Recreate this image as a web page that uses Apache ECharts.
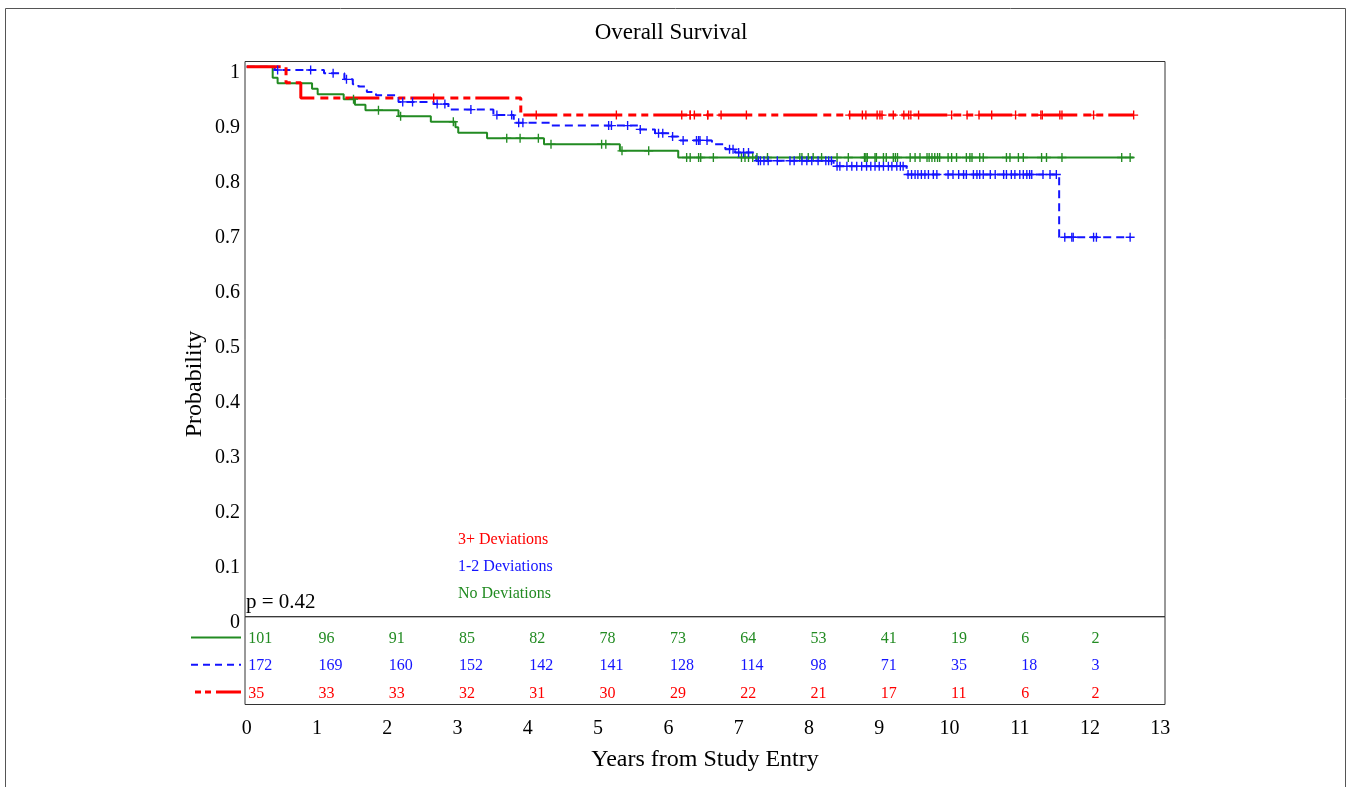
<!DOCTYPE html>
<html><head><meta charset="utf-8">
<script src="https://cdn.jsdelivr.net/npm/echarts@6/dist/echarts.min.js"></script>
<style>html,body{margin:0;padding:0;background:#fff}#c{width:1348px;height:787px}</style>
</head><body><div id="c"></div>
<script>
// ---------- DATA ----------
const xTicks = [0,1,2,3,4,5,6,7,8,9,10,11,12,13];
const yTicks = [0,0.1,0.2,0.3,0.4,0.5,0.6,0.7,0.8,0.9,1];

// No Deviations (green, solid)
const noDevTimes = [0, 0.37, 0.44, 0.93, 1.01, 1.38, 1.54, 1.69, 2.16, 2.62, 2.97, 3.01, 3.42, 4.23, 5.31, 6.14];
const noDevSurv  = [1, 0.980, 0.970, 0.960, 0.950, 0.941, 0.931, 0.921, 0.910, 0.900, 0.890, 0.880, 0.870, 0.859, 0.847, 0.835];
const noDevEnd = 12.62;
const noDevCens = [1.52, 1.875, 2.19, 2.94, 3.70, 3.89, 4.15, 4.33, 5.05, 5.11, 5.34, 5.72, 6.26, 6.31, 6.43, 6.46, 6.64,
  7.04, 7.09, 7.14, 7.20, 7.26, 7.41, 7.87, 7.90, 7.99, 8.06, 8.18, 8.40, 8.56, 8.79, 8.81, 8.83, 8.94, 8.96, 9.06, 9.10,
  9.20, 9.23, 9.26, 9.44, 9.51, 9.58, 9.68, 9.71, 9.75, 9.79, 9.83, 9.86, 9.98, 10.03, 10.10, 10.24, 10.29, 10.32, 10.43,
  10.48, 10.81, 10.86, 10.98, 11.05, 11.31, 11.38, 11.60, 12.45, 12.57];

// 1-2 Deviations (blue, dashed)
const oneTwoTimes = [0, 0.40, 1.10, 1.39, 1.51, 1.59, 1.71, 1.84, 2.16, 2.66, 2.87, 3.51, 3.80, 4.32, 5.57, 5.81, 6.02, 6.14, 6.62, 6.81, 6.95, 7.25, 8.35, 9.39, 11.56];
const oneTwoSurv  = [1, 0.994, 0.988, 0.977, 0.968, 0.964, 0.954, 0.948, 0.936, 0.932, 0.922, 0.912, 0.898, 0.893, 0.886, 0.879, 0.873, 0.866, 0.859, 0.850, 0.844, 0.829, 0.819, 0.804, 0.690];
const oneTwoEnd = 12.57;
const oneTwoCens = [0.44, 0.91, 1.23, 1.42, 2.22, 2.36, 2.71, 2.82, 3.19, 3.56, 3.77, 3.87, 3.93, 5.15, 5.19, 5.42, 5.60,
  5.86, 5.92, 6.06, 6.21, 6.40, 6.43, 6.45, 6.55, 6.87, 6.92, 7.00, 7.07, 7.14, 7.28, 7.31, 7.36, 7.42, 7.55, 7.73, 7.79,
  7.90, 7.97, 8.04, 8.13, 8.24, 8.28, 8.32, 8.40, 8.44, 8.54, 8.61, 8.68, 8.75, 8.82, 8.88, 8.94, 9.00, 9.06, 9.13, 9.18,
  9.25, 9.30, 9.34, 9.41, 9.46, 9.51, 9.55, 9.60, 9.65, 9.70, 9.77, 9.82, 9.98, 10.05, 10.13, 10.20, 10.24, 10.34, 10.39,
  10.43, 10.48, 10.58, 10.65, 10.77, 10.81, 10.88, 10.93, 11.00, 11.05, 11.10, 11.14, 11.17, 11.33, 11.43, 11.52, 11.64,
  11.74, 11.76, 12.05, 12.09, 12.57];

// 3+ Deviations (red, long dash-dot-dot)
const threePlusTimes = [0, 0.56, 0.77, 3.90];
const threePlusSurv  = [1, 0.971, 0.943, 0.912];
const threePlusEnd = 12.62;
const threePlusCens = [2.66, 4.12, 5.26, 6.19, 6.31, 6.31, 6.37, 6.56, 6.56, 6.75, 7.11, 8.58, 8.76, 8.81, 8.97, 9.01, 9.04,
  9.20, 9.35, 9.42, 9.45, 9.56, 10.03, 10.25, 10.42, 10.60, 10.94, 11.30, 11.32, 11.57, 11.60, 12.05, 12.62];

// Numbers at risk
const riskTimes = [0,1,2,3,4,5,6,7,8,9,10,11,12];
const riskNoDev = [101,96,91,85,82,78,73,64,53,41,19,6,2];
const riskOneTwo = [172,169,160,152,142,141,128,114,98,71,35,18,3];
const riskThreePlus = [35,33,33,32,31,30,29,22,21,17,11,6,2];

const groupNames = ['No Deviations', '1-2 Deviations', '3+ Deviations'];

// ---------- BUILD ----------
const FONT = '"Liberation Serif", "Times New Roman", serif';
const GREEN = '#228B22', BLUE = '#1414FF', RED = '#FF0000';
const BOX = '#333333';
const PLUS = 'path://M-0.15,-1L0.15,-1L0.15,-0.15L1,-0.15L1,0.15L0.15,0.15L0.15,1L-0.15,1L-0.15,0.15L-1,0.15L-1,-0.15L-0.15,-0.15Z';

function stepData(times, surv, end) {
  const pts = times.map((t, i) => [t, surv[i]]);
  pts.push([end, surv[surv.length - 1]]);
  return pts;
}
function survAt(times, surv, t) {
  let s = surv[0];
  for (let i = 0; i < times.length; i++) if (times[i] <= t) s = surv[i];
  return s;
}
function censData(times, surv, cens) {
  return cens.map(c => [c, survAt(times, surv, c)]);
}
function riskData(counts, row) {
  return riskTimes.map((t, i) => [t, row, counts[i]]);
}

const X_MIN = -0.024, X_MAX = 13.066;

const chart = echarts.init(document.getElementById('c'), null, {renderer: 'canvas'});

const lineSeries = (name, data, color, width, type, z) => ({
  name, type: 'line', step: 'end', data, xAxisIndex: 0, yAxisIndex: 0,
  showSymbol: false, symbol: 'none', animation: false, z,
  lineStyle: {color, width, type, opacity: 1}, emphasis: {disabled: true}
});
const censSeries = (name, data, color, z) => ({
  name, type: 'scatter', data, xAxisIndex: 0, yAxisIndex: 0,
  symbol: PLUS, symbolSize: 9, itemStyle: {color, opacity: 1}, z, animation: false,
  emphasis: {disabled: true}
});
const riskSeries = (name, data, color) => ({
  name, type: 'scatter', data, xAxisIndex: 1, yAxisIndex: 1,
  symbolSize: 1, itemStyle: {color: 'rgba(0,0,0,0)', opacity: 1}, animation: false,
  emphasis: {disabled: true},
  label: {show: true, position: 'inside', align: 'left', verticalAlign: 'middle', offset: [1.5, 2],
    formatter: p => String(p.data[2]), color, opacity: 1, fontSize: 16, fontFamily: FONT,
    textBorderWidth: 0, textBorderColor: 'transparent', textShadowBlur: 0}
});

const option = {
  animation: false,
  backgroundColor: '#fff',
  grid: [
    {left: 245, top: 61.5, width: 920, height: 555.2, show: true, borderColor: BOX, borderWidth: 1,
     backgroundColor: 'transparent', containLabel: false, outerBoundsMode: 'none'},
    {left: 245, top: 616.7, width: 920, height: 87.8, show: true, borderColor: BOX, borderWidth: 1,
     backgroundColor: 'transparent', containLabel: false, outerBoundsMode: 'none'}
  ],
  xAxis: [
    {type: 'value', gridIndex: 0, min: X_MIN, max: X_MAX, axisLine: {show: false}, axisTick: {show: false},
     axisLabel: {show: false}, splitLine: {show: false}},
    {type: 'value', gridIndex: 1, min: X_MIN, max: X_MAX, axisLine: {show: false}, axisTick: {show: false},
     splitLine: {show: false},
     axisLabel: {show: true, customValues: xTicks, color: '#000', fontSize: 20, fontFamily: FONT, margin: 14},
     name: 'Years from Study Entry', nameLocation: 'middle', nameGap: 43.5,
     nameTextStyle: {color: '#000', fontSize: 24, fontFamily: FONT}}
  ],
  yAxis: [
    {type: 'value', gridIndex: 0, min: 0, max: 1.0095, axisLine: {show: false}, axisTick: {show: false},
     splitLine: {show: false},
     axisLabel: {show: true, customValues: yTicks, color: '#000', fontSize: 20, fontFamily: FONT, margin: 5,
       verticalAlign: 'top', lineHeight: 13}},
    {type: 'value', gridIndex: 1, min: -0.727, max: 2.466, inverse: true, show: false}
  ],
  series: [
    lineSeries(groupNames[0], stepData(noDevTimes, noDevSurv, noDevEnd), GREEN, 2, 'solid', 2),
    lineSeries(groupNames[1], stepData(oneTwoTimes, oneTwoSurv, oneTwoEnd), BLUE, 2, [8, 5], 3),
    lineSeries(groupNames[2], stepData(threePlusTimes, threePlusSurv, threePlusEnd), RED, 3, [34, 6, 8, 5, 7, 5], 4),
    censSeries(groupNames[0] + ' censored', censData(noDevTimes, noDevSurv, noDevCens), GREEN, 5),
    censSeries(groupNames[1] + ' censored', censData(oneTwoTimes, oneTwoSurv, oneTwoCens), BLUE, 6),
    censSeries(groupNames[2] + ' censored', censData(threePlusTimes, threePlusSurv, threePlusCens), RED, 7),
    riskSeries(groupNames[0] + ' at risk', riskData(riskNoDev, 0), GREEN),
    riskSeries(groupNames[1] + ' at risk', riskData(riskOneTwo, 1), BLUE),
    riskSeries(groupNames[2] + ' at risk', riskData(riskThreePlus, 2), RED)
  ],
  graphic: [
    {type: 'rect', shape: {x: 5.5, y: 8.5, width: 1340, height: 800}, style: {fill: 'none', stroke: '#555', lineWidth: 1}, silent: true},
    {type: 'text', x: 671, y: 33, style: {text: 'Overall Survival', fill: '#000', font: '23px ' + FONT,
      align: 'center', verticalAlign: 'middle', textAlign: 'center', textVerticalAlign: 'middle'}},
    {type: 'text', x: 195, y: 384, rotation: Math.PI / 2, style: {text: 'Probability', fill: '#000', font: '24px ' + FONT,
      align: 'center', verticalAlign: 'middle', textAlign: 'center', textVerticalAlign: 'middle'}},
    {type: 'text', x: 246, y: 602, style: {text: 'p = 0.42', fill: '#000', font: '21px ' + FONT,
      align: 'left', verticalAlign: 'middle', textAlign: 'left', textVerticalAlign: 'middle'}},
    {type: 'text', x: 458, y: 540, style: {text: groupNames[2], fill: RED, font: '16px ' + FONT,
      align: 'left', verticalAlign: 'middle', textAlign: 'left', textVerticalAlign: 'middle'}},
    {type: 'text', x: 458, y: 567.2, style: {text: groupNames[1], fill: BLUE, font: '16px ' + FONT,
      align: 'left', verticalAlign: 'middle', textAlign: 'left', textVerticalAlign: 'middle'}},
    {type: 'text', x: 458, y: 594.2, style: {text: groupNames[0], fill: GREEN, font: '16px ' + FONT,
      align: 'left', verticalAlign: 'middle', textAlign: 'left', textVerticalAlign: 'middle'}},
    {type: 'line', shape: {x1: 191, y1: 637.5, x2: 241, y2: 637.5}, style: {stroke: GREEN, lineWidth: 2}},
    {type: 'line', shape: {x1: 191, y1: 664.8, x2: 241, y2: 664.8}, style: {stroke: BLUE, lineWidth: 2, lineDash: [7, 5]}},
    {type: 'line', shape: {x1: 241, y1: 692, x2: 191, y2: 692}, style: {stroke: RED, lineWidth: 3, lineDash: [25, 5, 6, 4, 6, 4]}}
  ]
};
chart.setOption(option);
</script>
</body></html>
